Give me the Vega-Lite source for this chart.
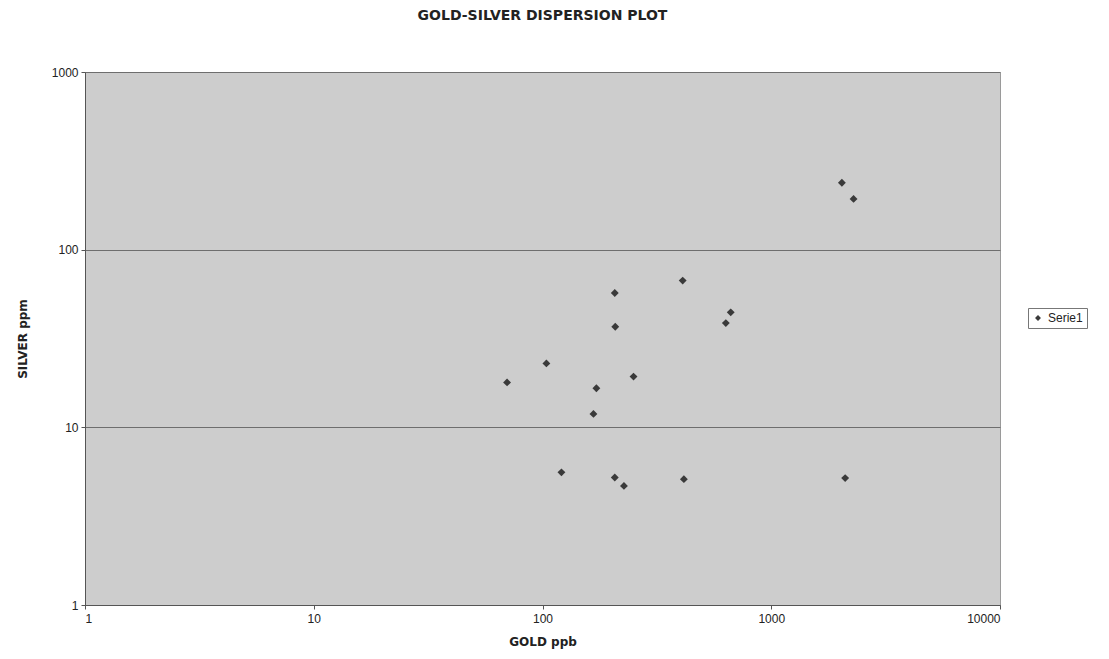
{
  "$schema": "https://vega.github.io/schema/vega-lite/v6.json",
  "autosize": {"type": "none"},
  "padding": {"left": 85, "top": 72, "right": 109, "bottom": 54},
  "width": 915,
  "height": 533,
  "background": "#ffffff",
  "title": {
    "text": "GOLD-SILVER DISPERSION PLOT",
    "font": "DejaVu Sans",
    "fontSize": 14,
    "fontWeight": "bold",
    "color": "#222222",
    "offset": 43,
    "anchor": "middle"
  },
  "config": {
    "view": {"fill": "#cdcdcd", "stroke": "#9a9a9a", "strokeWidth": 1},
    "axis": {
      "labelFont": "Liberation Sans",
      "titleFont": "DejaVu Sans",
      "labelFontSize": 12,
      "titleFontSize": 12,
      "titleFontWeight": "bold",
      "labelColor": "#222222",
      "titleColor": "#222222",
      "domainColor": "#555555",
      "tickColor": "#555555"
    }
  },
  "data": {
    "values": [
      {"gold": 70, "silver": 17.9, "series": "Serie1"},
      {"gold": 104, "silver": 22.9, "series": "Serie1"},
      {"gold": 207, "silver": 57, "series": "Serie1"},
      {"gold": 208, "silver": 36.8, "series": "Serie1"},
      {"gold": 250, "silver": 19.3, "series": "Serie1"},
      {"gold": 172, "silver": 16.6, "series": "Serie1"},
      {"gold": 167, "silver": 11.9, "series": "Serie1"},
      {"gold": 410, "silver": 67, "series": "Serie1"},
      {"gold": 665, "silver": 44.4, "series": "Serie1"},
      {"gold": 633, "silver": 38.6, "series": "Serie1"},
      {"gold": 121, "silver": 5.58, "series": "Serie1"},
      {"gold": 207, "silver": 5.22, "series": "Serie1"},
      {"gold": 227, "silver": 4.68, "series": "Serie1"},
      {"gold": 415, "silver": 5.11, "series": "Serie1"},
      {"gold": 2036, "silver": 238, "series": "Serie1"},
      {"gold": 2290, "silver": 193, "series": "Serie1"},
      {"gold": 2104, "silver": 5.18, "series": "Serie1"}
    ]
  },
  "mark": {"type": "point", "shape": "diamond", "filled": true, "size": 62, "opacity": 1},
  "encoding": {
    "x": {
      "field": "gold",
      "type": "quantitative",
      "scale": {"type": "log", "domain": [1, 10000], "nice": false},
      "axis": {
        "title": "GOLD ppb",
        "values": [1, 10, 100, 1000, 10000],
        "format": "d",
        "grid": false,
        "tickSize": 4,
        "labelPadding": 4,
        "titlePadding": 12
      }
    },
    "y": {
      "field": "silver",
      "type": "quantitative",
      "scale": {"type": "log", "domain": [1, 1000], "nice": false},
      "axis": {
        "title": "SILVER ppm",
        "values": [1, 10, 100, 1000],
        "format": "d",
        "grid": true,
        "gridColor": "#6e6e6e",
        "gridOpacity": 1,
        "gridWidth": 1.2,
        "tickSize": 4,
        "labelPadding": 3,
        "titlePadding": 22
      }
    },
    "color": {
      "field": "series",
      "type": "nominal",
      "scale": {"range": ["#3a3a3a"]},
      "legend": {
        "title": null,
        "orient": "none",
        "legendX": 943,
        "legendY": 236,
        "symbolType": "diamond",
        "symbolSize": 35,
        "labelFont": "Liberation Sans",
        "labelFontSize": 12,
        "labelColor": "#222222",
        "strokeColor": "#777777",
        "padding": 4,
        "fillColor": "#ffffff"
      }
    }
  }
}
